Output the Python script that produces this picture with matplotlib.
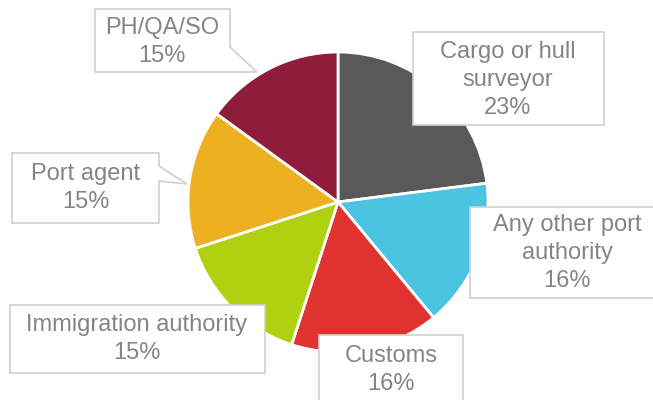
import matplotlib
matplotlib.use('Agg')
import matplotlib.pyplot as plt
from matplotlib.patches import Polygon

plt.rcParams['font.family'] = ['Liberation Sans', 'DejaVu Sans']

# データ
categories = ['Cargo or hull\nsurveyor', 'Any other port\nauthority', 'Customs',
              'Immigration authority', 'Port agent', 'PH/QA/SO']
shares = [23, 16, 16, 15, 15, 15]
colors = ['#595959', '#4bc4e2', '#e03330', '#b0d10f', '#ecb021', '#8f1c3b']

# ラベルの吹き出し (ピクセル座標, 上から下)
label_pos = [(508, 80), (567, 253), (391, 370), (137, 339), (86, 188), (162, 42)]
boxes = [
    [(413, 32), (604, 32), (604, 125), (413, 125)],
    [(470, 207), (665, 207), (665, 298), (470, 298)],
    [(319, 335), (463, 335), (463, 420), (319, 420)],
    [(10, 305), (265, 305), (265, 373), (10, 373)],
    [(12, 153), (159, 153), (159, 166), (187, 184), (159, 181), (159, 223), (12, 223)],
    [(95, 9), (230, 9), (230, 47), (257, 72), (95, 72)],
]

fig = plt.figure(figsize=(6.53, 4.0), dpi=100)
ax = fig.add_axes([0, 0, 1, 1])
ax.set_xlim(0, 653)
ax.set_ylim(400, 0)
ax.set_aspect('equal')
ax.axis('off')

ax.pie(shares, colors=colors, center=(338, 202), radius=150,
       startangle=-90, counterclock=True,
       wedgeprops=dict(edgecolor='white', linewidth=2))
ax.set_xlim(0, 653)
ax.set_ylim(400, 0)

for cat, val, (x, y), box in zip(categories, shares, label_pos, boxes):
    ax.add_patch(Polygon(box, closed=True, facecolor='white',
                         edgecolor='#d0d0d0', linewidth=1.2, zorder=3))
    ax.text(x, y, f'{cat}\n{val}%', ha='center', va='center',
            fontsize=17, color='#858585', linespacing=1.38, zorder=4)

fig.savefig('out.png', dpi=100)
